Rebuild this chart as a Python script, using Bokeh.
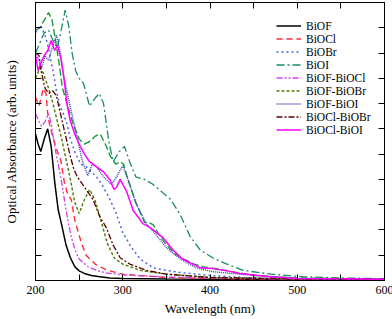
from bokeh.plotting import figure
from bokeh.models import (Range1d, LinearAxis, FixedTicker, Legend, LegendItem)
from bokeh.embed import file_html
from bokeh.resources import INLINE

# ---------------- data ----------------
wl_biof = [200, 203, 206, 210, 214, 218, 222, 226, 230, 235, 240, 245, 250, 256, 264, 272, 285, 300, 350, 400, 500, 600]
a_biof = [5.8, 5.4, 5.1, 5.6, 6.0, 5.3, 3.9, 2.8, 2.2, 1.4, 0.9, 0.55, 0.38, 0.28, 0.2, 0.16, 0.1, 0.08, 0.06, 0.05, 0.03, 0.02]

wl_biocl = [200, 204, 209, 212, 214, 216, 219, 225, 229, 233, 237, 241, 245, 249, 253, 258, 264, 270, 283, 300, 350, 400, 500, 600]
a_biocl = [7.25, 6.9, 7.6, 7.4, 6.6, 6.2, 5.8, 5.1, 4.75, 3.9, 3.4, 3.2, 2.4, 1.9, 1.45, 1.0, 0.8, 0.6, 0.4, 0.25, 0.12, 0.08, 0.05, 0.04]

wl_biobr = [200, 206, 212, 216, 220, 224, 228, 232, 236, 240, 246, 252, 258, 264, 270, 276, 284, 292, 300, 310, 320, 335, 350, 370, 400, 450, 500, 600]
a_biobr = [9.8, 10.1, 9.6, 9.0, 8.3, 7.5, 6.9, 6.6, 6.2, 5.6, 5.0, 4.6, 4.5, 4.3, 4.1, 3.8, 3.3, 2.7, 1.9, 1.3, 0.85, 0.5, 0.4, 0.3, 0.2, 0.1, 0.07, 0.05]

wl_bioi = [200, 205, 210, 215, 220, 225, 230, 234, 238, 242, 246, 250, 255, 262, 268, 273, 278, 284, 289, 296, 302, 308, 315, 325, 335, 345, 355, 366, 377, 389, 403, 418, 438, 470, 506, 550, 600]
a_bioi = [9.0, 9.4, 9.8, 9.9, 9.5, 9.2, 10.0, 10.7, 10.1, 9.0, 8.3, 8.0, 7.8, 6.9, 7.2, 7.4, 7.0, 5.5, 4.7, 5.1, 5.3, 4.7, 4.1, 4.0, 3.8, 3.5, 3.2, 2.6, 1.75, 1.2, 0.9, 0.67, 0.4, 0.25, 0.15, 0.1, 0.07]

wl_biof_biocl = [200, 204, 207, 211, 215, 218, 222, 226, 230, 234, 238, 242, 246, 250, 260, 270, 280, 300, 350, 400, 500, 600]
a_biof_biocl = [6.6, 6.3, 6.1, 6.3, 6.6, 6.2, 5.3, 4.6, 3.9, 3.0, 2.2, 1.6, 1.15, 0.85, 0.55, 0.4, 0.3, 0.22, 0.14, 0.1, 0.06, 0.04]

wl_biof_biobr = [200, 205, 209, 215, 220, 225, 230, 235, 240, 245, 250, 256, 262, 268, 274, 282, 290, 300, 320, 350, 400, 500, 600]
a_biof_biobr = [8.0, 8.4, 8.2, 7.6, 7.0, 6.3, 5.6, 4.8, 4.0, 3.1, 2.65, 3.2, 3.6, 3.2, 2.5, 1.5, 0.9, 0.65, 0.4, 0.25, 0.12, 0.06, 0.04]

wl_biof_bioi = [200, 203, 207, 211, 215, 219, 224, 228, 233, 239, 245, 250, 254, 260, 265, 270, 278, 287, 293, 300, 306, 315, 327, 336, 350, 366, 384, 403, 434, 470, 500, 600]
a_biof_bioi = [8.9, 8.8, 8.4, 8.9, 8.7, 9.2, 9.7, 9.1, 8.0, 7.0, 6.1, 5.3, 4.7, 4.15, 4.6, 4.5, 4.1, 3.8, 4.1, 4.55, 4.0, 3.05, 2.25, 1.9, 1.3, 0.85, 0.5, 0.35, 0.25, 0.15, 0.08, 0.05]

wl_biocl_biobr = [200, 204, 207, 211, 215, 220, 224, 228, 232, 236, 240, 244, 248, 252, 258, 266, 274, 281, 289, 297, 308, 327, 350, 400, 500, 600]
a_biocl_biobr = [9.0, 8.9, 8.2, 7.6, 7.4, 7.5, 7.3, 6.7, 6.1, 5.5, 4.9, 4.4, 4.1, 3.9, 3.6, 3.2, 2.5, 2.1, 1.4, 0.9, 0.65, 0.4, 0.25, 0.12, 0.06, 0.04]

wl_biocl_bioi = [200, 203, 206, 210, 214, 218, 222, 225, 229, 233, 236, 240, 245, 250, 256, 262, 270, 278, 285, 290, 293, 297, 304, 312, 323, 331, 346, 358, 369, 389, 403, 418, 434, 470, 500, 600]
a_biocl_bioi = [8.9, 8.3, 8.6, 8.9, 9.1, 9.5, 9.1, 9.3, 8.8, 7.9, 7.0, 6.3, 5.8, 5.4, 5.0, 4.7, 4.5, 4.3, 4.0, 3.6, 3.7, 4.0, 3.56, 2.77, 2.25, 2.1, 1.7, 1.19, 0.84, 0.5, 0.47, 0.4, 0.28, 0.15, 0.08, 0.05]

# extra green dashed trace drawn in the figure (no legend entry)
wl_green = [200, 205, 210, 215, 219, 223, 227, 231, 237, 243, 250, 256, 262, 268, 274, 280, 286, 292, 297, 301, 305, 310, 315, 320, 325, 330, 335, 341, 347, 353, 360, 370, 382, 392, 400, 410, 425, 450, 500, 600]
a_green = [9.9, 10.0, 10.3, 10.6, 10.3, 9.5, 8.6, 7.6, 6.9, 6.2, 5.6, 5.4, 5.5, 5.7, 5.8, 5.4, 4.9, 4.6, 4.7, 4.6, 4.1, 3.6, 3.1, 2.7, 2.3, 2.3, 2.2, 1.85, 1.55, 1.3, 1.05, 0.85, 0.65, 0.55, 0.5, 0.45, 0.35, 0.2, 0.1, 0.05]

x_ticks = [200, 300, 400, 500, 600]
x_minor = [250, 350, 450, 550]
y_ticks = list(range(0, 12))

series = [
    ("BiOF", wl_biof, a_biof, "black", "solid", 1.5),
    ("BiOCl", wl_biocl, a_biocl, "#ff2a3a", "6 4", 1.4),
    ("BiOBr", wl_biobr, a_biobr, "#4a66dd", "2 3", 1.5),
    ("BiOI", wl_bioi, a_bioi, "#1a8a6a", "8 3 2 3", 1.3),
    ("BiOF-BiOCl", wl_biof_biocl, a_biof_biocl, "#cc44ee", "6 2 2 2 2 2", 1.3),
    ("BiOF-BiOBr", wl_biof_biobr, a_biof_biobr, "#4d7a00", "3 2", 1.4),
    ("BiOF-BiOI", wl_biof_bioi, a_biof_bioi, "#3040b0", "1 1", 1.4),
    ("BiOCl-BiOBr", wl_biocl_biobr, a_biocl_biobr, "#5a0000", "6 2 2 2", 1.3),
    ("BiOCl-BiOI", wl_biocl_bioi, a_biocl_bioi, "#ff00ff", "solid", 1.5),
]

FONT = "'Liberation Serif', 'Times New Roman', serif"

p = figure(width=392, height=319, output_backend="svg", toolbar_location=None,
           x_range=Range1d(200, 600), y_range=Range1d(0, 11),
           min_border_left=31, min_border_right=12, min_border_top=2, min_border_bottom=0)
p.frame_width = 349
p.frame_height = 278
p.grid.visible = False
p.outline_line_color = "black"
p.background_fill_color = "white"
p.border_fill_color = "white"

# extra trace first (behind)
p.line(wl_green, a_green, line_color="#1a9a3a", line_dash="7 3", line_width=1.4)

items = []
for name, xs, ys, col, dash, lw in series:
    r = p.line(xs, ys, line_color=col, line_dash=dash, line_width=lw)
    items.append(LegendItem(label=name, renderers=[r]))


def style_axis(ax, show_labels):
    ax.axis_line_color = "black"
    ax.major_tick_in = 6
    ax.major_tick_out = 0
    ax.minor_tick_in = 6
    ax.minor_tick_out = 0
    ax.major_tick_line_color = "black"
    ax.minor_tick_line_color = "black"
    ax.major_label_text_font = FONT
    ax.major_label_text_font_size = "12px"
    ax.major_label_text_color = "black"
    ax.axis_label_text_font = FONT
    ax.axis_label_text_font_style = "normal"
    ax.axis_label_text_color = "black"
    if not show_labels:
        ax.major_label_text_font_size = "0px"


xb = p.xaxis[0]
xb.ticker = FixedTicker(ticks=x_ticks, minor_ticks=x_minor)
style_axis(xb, True)
xb.axis_label = "Wavelength (nm)"
xb.axis_label_text_font_size = "13px"
xb.major_label_standoff = 5
xb.axis_label_standoff = 4

yl = p.yaxis[0]
yl.ticker = FixedTicker(ticks=y_ticks)
style_axis(yl, False)
yl.major_label_overrides = {t: "" for t in y_ticks}
yl.minor_tick_in = 0
yl.axis_label = "Optical Absorbance (arb. units)"
yl.axis_label_text_font_size = "13px"
yl.axis_label_standoff = 17

xt = LinearAxis(ticker=FixedTicker(ticks=x_ticks, minor_ticks=x_minor))
style_axis(xt, False)
xt.major_label_overrides = {t: "" for t in x_ticks}
p.add_layout(xt, "above")

yr = LinearAxis(ticker=FixedTicker(ticks=y_ticks))
style_axis(yr, False)
yr.major_label_overrides = {t: "" for t in y_ticks}
yr.minor_tick_in = 0
p.add_layout(yr, "right")

legend = Legend(items=items, location=(241, 144))
legend.background_fill_alpha = 0
legend.border_line_alpha = 0
legend.padding = 0
legend.margin = 0
legend.spacing = 0
legend.glyph_width = 25
legend.glyph_height = 13
legend.label_height = 13
legend.label_standoff = 5
legend.label_text_font = FONT
legend.label_text_font_size = "11.5px"
legend.label_text_color = "black"
legend.label_text_baseline = "middle"
p.add_layout(legend, "center")

open("out.html", "w").write(file_html(p, INLINE))
